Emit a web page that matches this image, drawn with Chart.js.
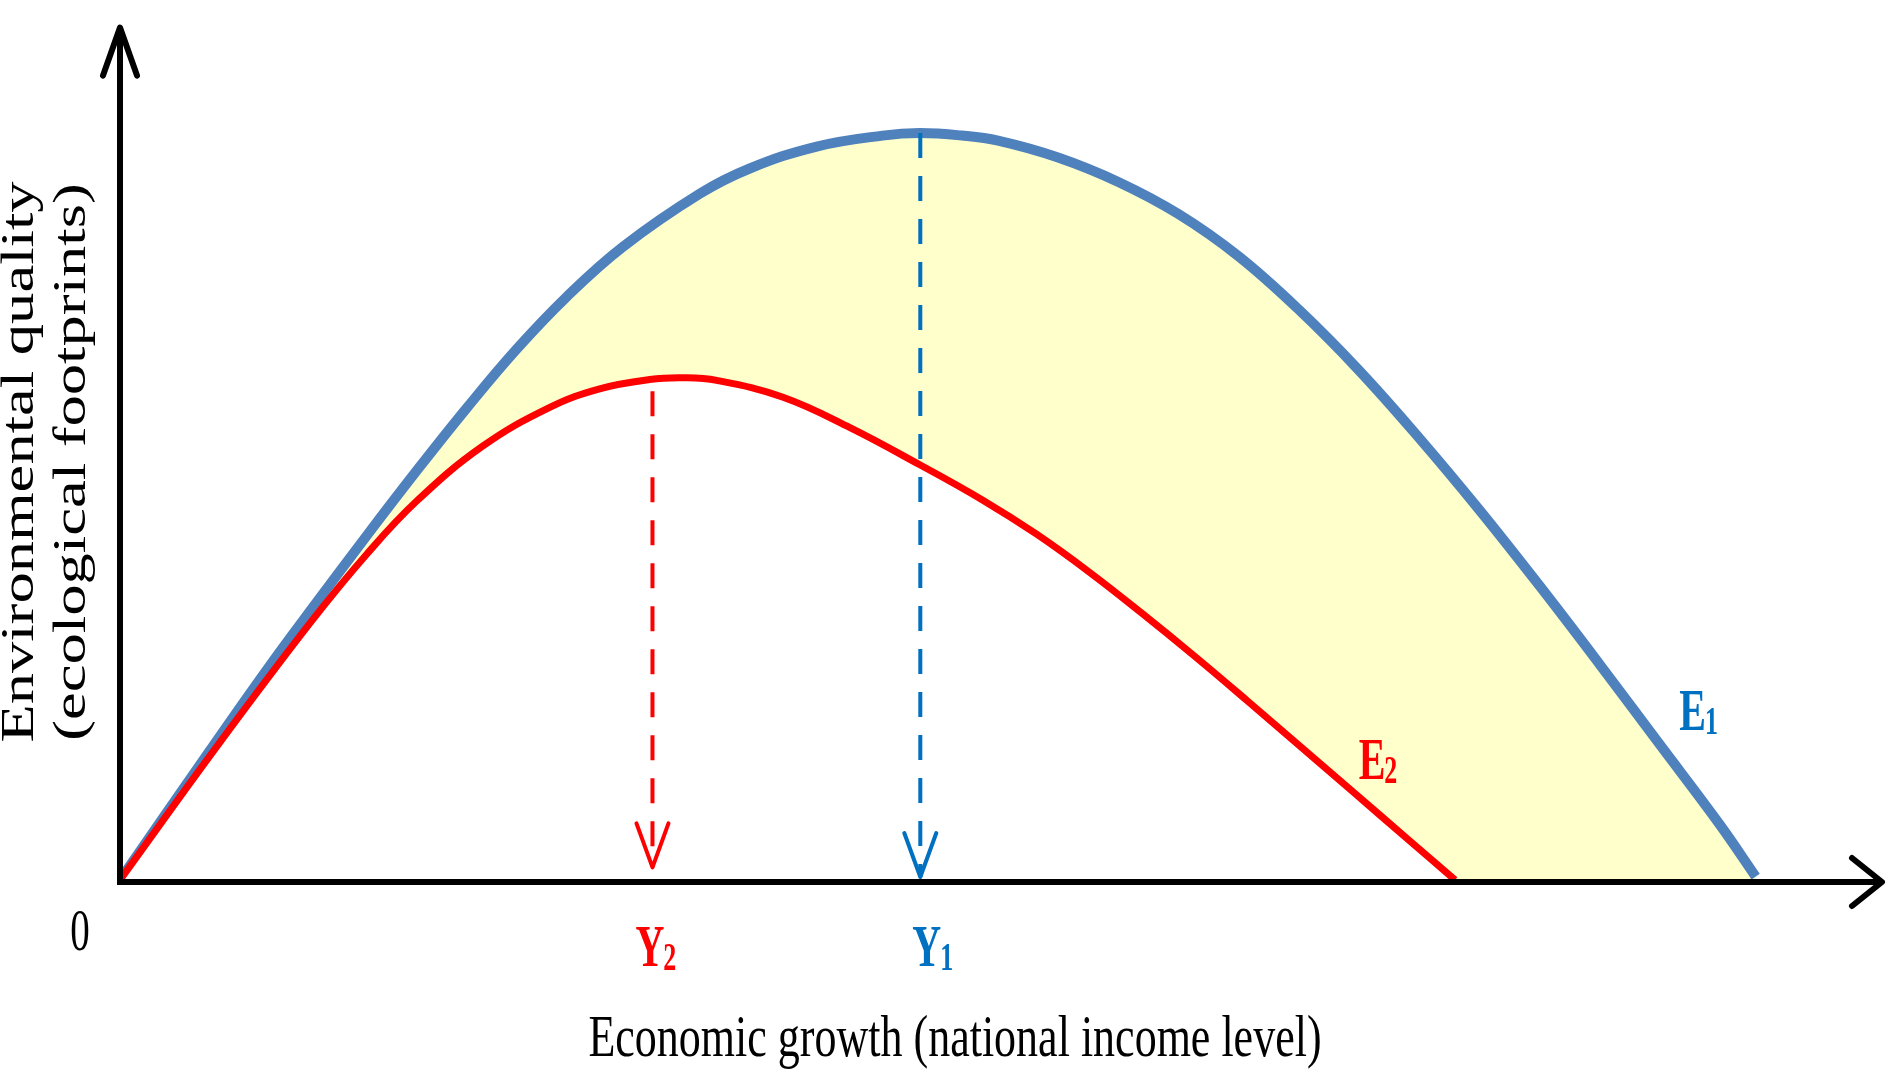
<!DOCTYPE html>
<html>
<head>
<meta charset="utf-8">
<script src="https://cdn.jsdelivr.net/npm/chart.js@4/dist/chart.umd.min.js"></script>
<style>
  html, body { margin: 0; padding: 0; background: #fff; }
  #wrap { width: 1886px; height: 1072px; position: relative; }
</style>
</head>
<body>
<div id="wrap"><canvas id="ekcChart"></canvas></div>
<script>
// Economic growth (x) and environmental quality (y)
const e1Income = [0, 5.09, 8.33, 11.16, 14.0, 16.84, 19.67, 22.51, 25.35, 28.53, 32.9, 35.74, 39.54, 43.28, 45.39, 47.78, 49.83, 53.24, 56.66, 60.07, 63.48, 66.89, 70.31, 73.72, 77.13, 80.55, 83.96, 87.37, 90.78, 92.83];
const e1Quality = [0, 15.3, 24.9, 32.9, 40.8, 48.5, 55.9, 62.9, 69.1, 75.0, 81.3, 84.3, 86.9, 88.2, 88.5, 88.2, 87.6, 85.6, 82.7, 78.9, 73.9, 67.6, 60.4, 52.4, 43.9, 34.9, 25.6, 16.1, 6.6, 0.4];

const e2Income = [0, 5.49, 10.77, 14.0, 16.84, 20.58, 24.39, 27.22, 30.06, 31.96, 33.86, 37.63, 41.43, 45.39, 48.97, 52.0, 55.0, 58.0, 61.0, 64.0, 67.0, 70.0, 73.0, 75.77];
const e2Quality = [0, 15.8, 30.4, 38.6, 44.9, 51.4, 56.0, 58.2, 59.3, 59.5, 59.2, 57.2, 53.6, 49.2, 45.0, 41.0, 36.5, 31.6, 26.5, 21.2, 15.8, 10.4, 5.0, 0];

// turning points Y2 / Y1 and where their dashed drops start and end
const turningIncome = [30.22, 45.42];
const dropTop = [57.9, 88.5];
const dropBottom = [1.5, 0.35];

// axis ends
const xAxisEnd = 100;
const yAxisEnd = 101;

const blueLine = '#4f81bd';
const blueText = '#0070c0';
const redLine = '#ff0000';
const yellowFill = '#ffffcc';
const serif = '"Liberation Serif", "Times New Roman", serif';

function points(xs, ys) {
    return xs.map((v, i) => ({ x: v, y: ys[i] }));
}

// text drawn with the same vertical stretch as the original picture
function stretchedText(ctx, str, px, py, font, color, align, sy) {
    ctx.save();
    ctx.translate(px, py);
    ctx.scale(1, sy);
    ctx.font = font;
    ctx.fillStyle = color;
    ctx.textAlign = align;
    ctx.textBaseline = 'alphabetic';
    ctx.fillText(str, 0, 0);
    ctx.restore();
}

// letter with a subscript, e.g. E1, Y2
function subLabel(ctx, main, sub, left, base, color) {
    const s = 1.5;
    ctx.save();
    ctx.font = 'bold 40px ' + serif;
    const w = ctx.measureText(main).width;
    ctx.restore();
    stretchedText(ctx, main, left, base, 'bold 40px ' + serif, color, 'left', s);
    stretchedText(ctx, sub, left + w - 1, base + 4, 'bold 26px ' + serif, color, 'left', s);
}

function arrowHead(ctx, tx, ty, ax, ay, bx, by, color, width) {
    ctx.save();
    ctx.strokeStyle = color;
    ctx.lineWidth = width;
    ctx.lineCap = 'round';
    ctx.lineJoin = 'round';
    ctx.beginPath();
    ctx.moveTo(ax, ay);
    ctx.lineTo(tx, ty);
    ctx.lineTo(bx, by);
    ctx.stroke();
    ctx.restore();
}

const sketchPlugin = {
    id: 'sketch',
    afterDatasetsDraw(chart) {
        const ctx = chart.ctx;
        const x = chart.scales.x, y = chart.scales.y;
        const ox = x.getPixelForValue(0), oy = y.getPixelForValue(0) + 2;
        const xe = x.getPixelForValue(xAxisEnd), ye = y.getPixelForValue(yAxisEnd);

        // axes
        ctx.save();
        ctx.strokeStyle = '#000';
        ctx.lineWidth = 6;
        ctx.beginPath();
        ctx.moveTo(ox, ye + 2);
        ctx.lineTo(ox, oy);
        ctx.lineTo(xe - 2, oy);
        ctx.stroke();
        ctx.restore();
        arrowHead(ctx, ox, ye, ox - 17, ye + 48, ox + 17, ye + 48, '#000', 6);
        arrowHead(ctx, xe, oy, xe - 30, oy - 24, xe - 30, oy + 24, '#000', 6);

        // arrow tips of the dashed drops
        const colors = [redLine, blueText];
        turningIncome.forEach((t, i) => {
            const px = x.getPixelForValue(t), py = y.getPixelForValue(dropBottom[i]);
            arrowHead(ctx, px, py, px - 16, py - 44, px + 16, py - 44, colors[i], 4);
        });

        // labels
        subLabel(ctx, 'E', '1', x.getPixelForValue(88.5), y.getPixelForValue(17.8), blueText);
        subLabel(ctx, 'E', '2', x.getPixelForValue(70.3), y.getPixelForValue(12.0), redLine);
        subLabel(ctx, 'Y', '2', x.getPixelForValue(turningIncome[0]) - 17, oy + 84, redLine);
        subLabel(ctx, 'Y', '1', x.getPixelForValue(turningIncome[1]) - 8, oy + 84, blueText);
        stretchedText(ctx, '0', ox - 40, oy + 68, '39px ' + serif, '#000', 'center', 1.5);

        // axis titles
        stretchedText(ctx, 'Economic growth (national income level)', 955, 1056, '44px ' + serif, '#000', 'center', 1.35);
        const yTitles = ['Environmental quality', '(ecological footprints)'];
        const yTitleX = [33, 85];
        yTitles.forEach((t, i) => {
            ctx.save();
            ctx.translate(yTitleX[i], 462);
            ctx.rotate(-Math.PI / 2);
            ctx.scale(1.36, 1);
            ctx.font = '46px ' + serif;
            ctx.fillStyle = '#000';
            ctx.textAlign = 'center';
            ctx.textBaseline = 'alphabetic';
            ctx.fillText(t, 0, 0);
            ctx.restore();
        });
    }
};

const ctx = document.getElementById('ekcChart').getContext('2d');
const ekcChart = new Chart(ctx, {
    type: 'line',
    data: {
        datasets: [
            {
                label: 'E1',
                data: points(e1Income, e1Quality),
                borderColor: blueLine,
                borderWidth: 10,
                backgroundColor: yellowFill,
                fill: 'origin',
                tension: 0.4,
                pointRadius: 0,
                order: 3
            },
            {
                label: 'E2',
                data: points(e2Income, e2Quality),
                borderColor: redLine,
                borderWidth: 7,
                backgroundColor: '#ffffff',
                fill: 'origin',
                tension: 0.4,
                pointRadius: 0,
                order: 2
            },
            {
                label: 'Y2',
                data: [{ x: turningIncome[0], y: dropTop[0] }, { x: turningIncome[0], y: dropBottom[0] }],
                borderColor: redLine,
                borderWidth: 4,
                borderDash: [25, 18],
                pointRadius: 0,
                fill: false,
                order: 1
            },
            {
                label: 'Y1',
                data: [{ x: turningIncome[1], y: dropTop[1] }, { x: turningIncome[1], y: dropBottom[1] }],
                borderColor: blueText,
                borderWidth: 4,
                borderDash: [25, 18],
                pointRadius: 0,
                fill: false,
                order: 1
            }
        ]
    },
    options: {
        responsive: true,
        maintainAspectRatio: false,
        animation: false,
        layout: {
            padding: { left: 120, right: 4, top: 36, bottom: 192 }
        },
        scales: {
            x: { type: 'linear', min: 0, max: 100, display: false },
            y: { type: 'linear', min: 0, max: 100, display: false }
        },
        plugins: {
            legend: { display: false },
            tooltip: { enabled: false }
        }
    },
    plugins: [sketchPlugin]
});
</script>
</body>
</html>
